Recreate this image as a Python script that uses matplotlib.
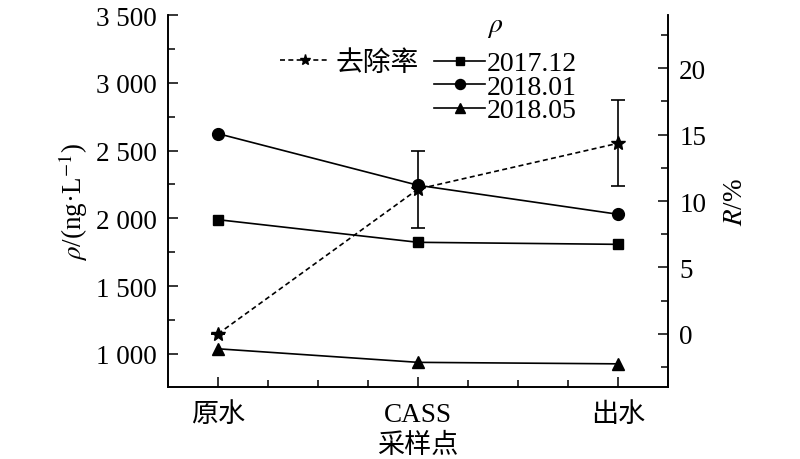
import matplotlib
matplotlib.use("Agg")
import matplotlib.pyplot as plt
from matplotlib.lines import Line2D
from matplotlib.ticker import FuncFormatter, MultipleLocator

plt.rcParams["font.family"] = ["Liberation Serif", "Noto Sans CJK SC"]
plt.rcParams["mathtext.fontset"] = "stix"
plt.rcParams["font.size"] = 19.5

# data
sites = ["原水", "CASS", "出水"]
rho_201712 = [1990, 1823, 1808]
rho_201801 = [2625, 2244, 2030]
rho_201805 = [1037, 937, 926]
removal = [0.0, 10.9, 14.35]
removal_err = [0.0, 2.9, 3.25]

x = list(range(len(sites)))

fig = plt.figure(figsize=(8, 4.6), dpi=100)
ax = fig.add_axes([0.21, 0.1565, 0.625, 0.8085])
ax2 = ax.twinx()

lw = 1.2
ax.plot(x, rho_201712, "-", color="black", lw=lw, marker="s", ms=7, label="2017.12")
ax.plot(x, rho_201801, "-", color="black", lw=lw, marker="o", ms=8.5, label="2018.01")
ax.plot(x, rho_201805, "-", color="black", lw=lw, marker="^", ms=8.5, label="2018.05")

ax2.errorbar(x, removal, yerr=removal_err,
             fmt="--", color="black", lw=lw, marker="*", ms=10,
             ecolor="black", elinewidth=lw, capsize=5, capthick=lw, dashes=(3, 2))

ax.set_xlim(-0.25, 2.25)
ax.set_ylim(755, 3500)
ax2.set_ylim(-4, 24)

ax.set_xticks(x)
ax.set_xticklabels(sites)
ax.xaxis.set_minor_locator(MultipleLocator(0.25))
ax.yaxis.set_major_locator(MultipleLocator(500))
ax.yaxis.set_minor_locator(MultipleLocator(250))
ax.yaxis.set_major_formatter(FuncFormatter(
    lambda v, p: "{:,}".format(int(v)).replace(",", " ")))
ax2.yaxis.set_minor_locator(MultipleLocator(2.5))
ax2.set_yticks([0, 5, 10, 15, 20])

for a in (ax, ax2):
    a.tick_params(which="major", direction="in", length=7, width=1.1, labelsize=19.5)
    a.tick_params(which="minor", direction="in", length=5, width=1.1)
    for s in a.spines.values():
        s.set_linewidth(1.2)
ax.tick_params(axis="y", pad=8)
ax.tick_params(axis="x", pad=11)
ax2.tick_params(axis="y", pad=8)
ax.spines["top"].set_visible(False)
ax2.spines["top"].set_visible(False)

ax.set_xlabel("采样点", fontsize=19.5, labelpad=4)
ax.set_ylabel(r"$\rho$/(ng·L$^{-1}$)", fontsize=19.5, labelpad=4)
ax2.set_ylabel(r"$R$/%", fontsize=19.5, labelpad=12)

# legends
rr_handle = Line2D([], [], color="black", lw=lw, ls="--", dashes=(3, 2), marker="*", ms=8)
fig.legend(handles=[rr_handle], labels=["去除率"], loc="center left",
           bbox_to_anchor=(280 / 800, 1 - 64 / 460), frameon=False,
           borderpad=0, borderaxespad=0, handlelength=1.8, handletextpad=0.2,
           fontsize=20)
h, l = ax.get_legend_handles_labels()
fig.legend(handles=h, labels=l, loc="upper left",
           bbox_to_anchor=(434 / 800, 1 - 52 / 460), frameon=False,
           borderpad=0, borderaxespad=0, handlelength=1.85, handletextpad=0.05,
           labelspacing=-0.07, fontsize=20, markerscale=0.85)
fig.text(495 / 800, 1 - 28 / 460, r"$\rho$", fontsize=20, ha="center", va="center")

fig.savefig("out.png", dpi=100)
